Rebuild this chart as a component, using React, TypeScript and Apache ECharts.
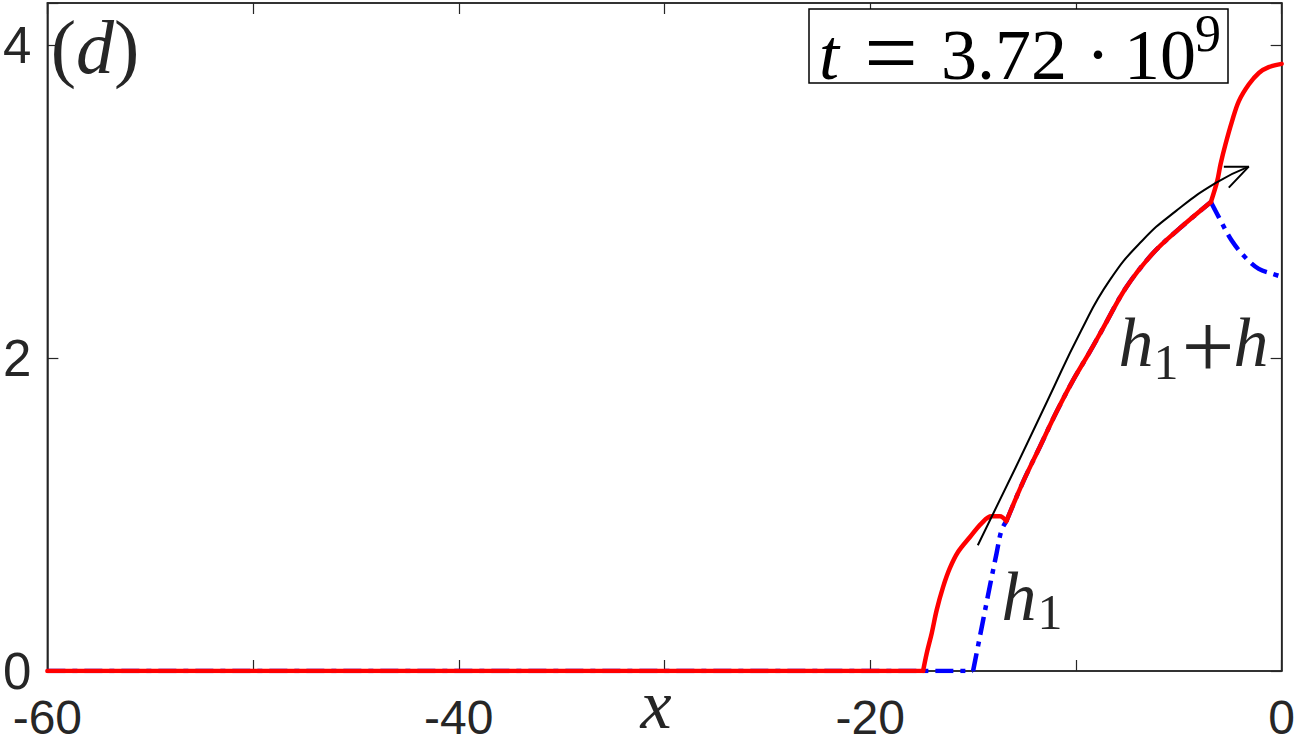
import React, { useEffect, useRef } from "react";
import * as echarts from "echarts";

// values
const redX = [-60, -17.43, -17.25, -17.01, -16.77, -16.46, -16.13, -15.74, -15.16, -14.59, -14.11, -13.7, -13.38, -12.58, -11.77, -10.96, -10.15, -9.35, -8.72, -7.57, -6.28, -4.99, -3.44, -3.13, -2.97, -2.73, -2.41, -2.08, -1.6, -1.11, -0.63, 0];
const redY = [0, 0, 0.115, 0.242, 0.389, 0.536, 0.657, 0.759, 0.855, 0.944, 0.989, 0.989, 0.958, 1.206, 1.429, 1.652, 1.856, 2.035, 2.182, 2.45, 2.667, 2.826, 2.998, 3.133, 3.24, 3.367, 3.515, 3.643, 3.749, 3.823, 3.86, 3.881];
// x positions where the red curve has a kink
const redKinks = [-17.43, -13.38, -3.44];

const blueX = [-60, -15.0, -14.83, -14.51, -14.19, -13.86, -13.62, -13.38, -12.58, -11.77, -10.96, -10.15, -9.35, -8.72, -7.57, -6.28, -4.99, -3.44, -3.05, -2.42, -1.74, -1.11, -0.48, 0];
const blueY = [0, 0, 0.113, 0.326, 0.539, 0.751, 0.899, 0.958, 1.206, 1.429, 1.652, 1.856, 2.035, 2.182, 2.45, 2.667, 2.826, 2.998, 2.9, 2.75, 2.64, 2.57, 2.54, 2.52];
const blueKinks = [-15.0, -13.38, -3.44];

const arrowX = [-14.77, -12.93, -11.38, -9.75, -8.38, -6.78, -5.13, -3.2, -1.6];
const arrowY = [0.804, 1.301, 1.729, 2.175, 2.494, 2.75, 2.941, 3.12, 3.224];
const headX = [-2.81, -1.6, -2.57];
const headY = [3.224, 3.224, 3.09];

const xTicks = [-60, -40, -20, 0];
const yTicks = [0, 2, 4];

const zip = (a: number[], b: number[]) => a.map((v, i) => [v, b[i]]);

function split(xs: number[], ys: number[], kinks: number[]) {
  const out: number[][][] = [];
  let cur: number[][] = [];
  xs.forEach((x, i) => {
    cur.push([x, ys[i]]);
    if (kinks.includes(x) && i > 0 && i < xs.length - 1) {
      out.push(cur);
      cur = [[x, ys[i]]];
    }
  });
  out.push(cur);
  return out;
}

export default function App() {
  const ref = useRef<HTMLDivElement>(null);
  useEffect(() => {
    document.body.style.margin = "0";
    const chart = echarts.init(ref.current!, undefined, { renderer: "svg" });
    const axisColor = "#262626";
    const serif = "Liberation Serif";
    const txtColor = "#262626";
    const tick = { inside: true, length: 11, lineStyle: { color: axisColor, width: 1.2 } };
    const line = { onZero: false, lineStyle: { color: axisColor, width: 1.5 } };

    const redSegs = split(redX, redY, redKinks).map((d) => ({
      type: "line", data: d, showSymbol: false, symbol: "none", smooth: d.length > 2 ? 0.35 : false,
      lineStyle: { color: "#ff0000", width: 4.5, cap: "round", join: "round" }, z: 3,
    }));
    const blueSegs = split(blueX, blueY, blueKinks).map((d) => ({
      type: "line", data: d, showSymbol: false, symbol: "none", smooth: d.length > 2 ? 0.35 : false,
      lineStyle: { color: "#0000ff", width: 4.5, type: [18, 7, 5, 7] }, z: 2,
    }));

    const t = (x: number, y: number, text: string, size: number, opts: any = {}) => ({
      type: "text", x, y, z: 11,
      style: { text, fontFamily: serif, fontSize: size, fill: opts.fill || txtColor, fontStyle: opts.italic ? "italic" : "normal", align: "center", verticalAlign: "middle" },
    });

    chart.setOption({
      animation: false,
      grid: { left: 44, right: 15, top: 3, bottom: 73, containLabel: false, show: true, borderColor: axisColor, borderWidth: 1.5, backgroundColor: "transparent" },
      xAxis: [
        {
          type: "value", min: -60, max: 0, interval: 10,
          axisLine: line, axisTick: tick, splitLine: { show: false },
          axisLabel: {
            fontFamily: "Liberation Sans", fontSize: 48, color: axisColor, lineHeight: 38, margin: 27,
            formatter: (v: number) => (xTicks.includes(v) ? String(v) : ""),
          },
        },
        {
          type: "value", min: -60, max: 0, interval: 10, position: "top",
          axisLine: line, axisTick: tick, splitLine: { show: false }, axisLabel: { show: false },
        },
      ],
      yAxis: [
        {
          type: "value", min: 0, max: 4.27, interval: 2,
          axisLine: { show: true, ...line }, axisTick: { show: true, ...tick }, splitLine: { show: false },
          axisLabel: {
            fontFamily: "Liberation Sans", fontSize: 51, color: axisColor, lineHeight: 38, margin: 16,
            formatter: (v: number) => (yTicks.includes(v) ? String(v) : ""),
          },
        },
        {
          type: "value", min: 0, max: 4.27, interval: 2, position: "right",
          axisLine: { show: true, ...line }, axisTick: { show: true, ...tick }, splitLine: { show: false },
          axisLabel: { show: false },
        },
      ],
      series: [
        ...blueSegs,
        ...redSegs,
        {
          type: "line", data: zip(arrowX, arrowY), showSymbol: false, symbol: "none", smooth: 0.5,
          lineStyle: { color: "#000000", width: 2 }, z: 4,
        },
        {
          type: "line", data: zip(headX, headY), showSymbol: false, symbol: "none",
          lineStyle: { color: "#000000", width: 2 }, z: 4,
        },
      ],
      graphic: [
        {
          type: "text", x: 95, y: 47, z: 11,
          style: {
            text: "{a|(}{b|d}{a|)}", align: "center", verticalAlign: "middle",
            rich: {
              a: { fontFamily: serif, fontSize: 76, fill: txtColor, color: txtColor },
              b: { fontFamily: serif, fontSize: 76, fontStyle: "italic", fill: txtColor, color: txtColor },
            },
          },
        },
        {
          type: "rect", shape: { x: 809, y: 9, width: 419, height: 74 },
          style: { fill: "#fff", stroke: "#000", lineWidth: 1.5 }, z: 10,
        },
        t(829, 55, "t", 72, { italic: true, fill: "#000" }),
        t(891, 53, "=", 95, { fill: "#000" }),
        t(1004, 55, "3.72", 72, { fill: "#000" }),
        t(1098, 55, "·", 72, { fill: "#000" }),
        t(1160, 55, "10", 72, { fill: "#000" }),
        t(1208, 33, "9", 52, { fill: "#000" }),
        t(1136, 342, "h", 70, { italic: true }),
        t(1166, 362, "1", 50),
        t(1208, 346, "+", 94),
        t(1251, 342, "h", 70, { italic: true }),
        t(1019, 596, "h", 70, { italic: true }),
        t(1050, 612, "1", 50),
        t(656, 704, "x", 70, { italic: true }),
      ],
    });
    return () => chart.dispose();
  }, []);
  return <div ref={ref} style={{ width: 1298, height: 744 }} />;
}
